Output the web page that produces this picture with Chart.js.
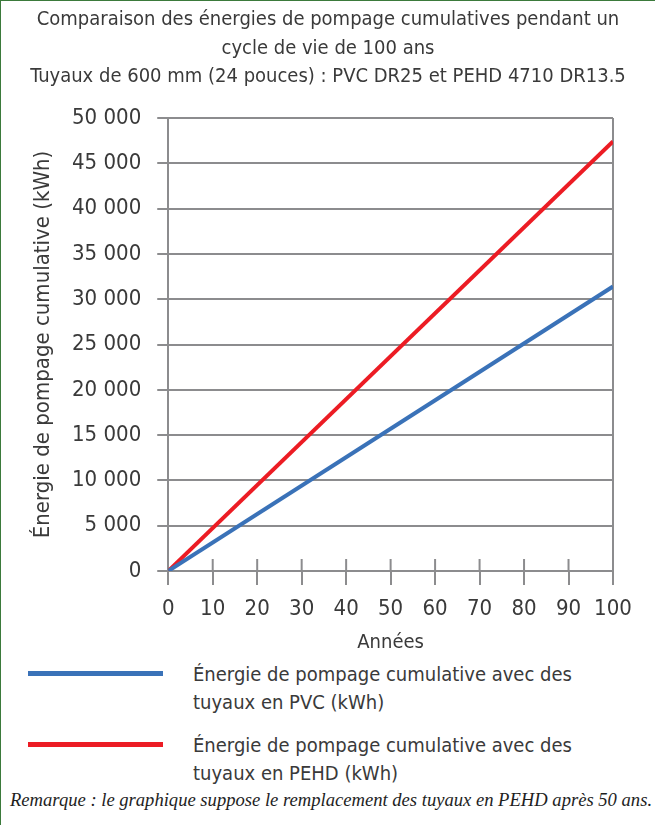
<!DOCTYPE html>
<html>
<head>
<meta charset="utf-8">
<script src="https://cdn.jsdelivr.net/npm/chart.js@4"></script>
<style>
  body { margin: 0; background: #fff; }
  #wrap { position: relative; width: 654px; height: 824px; border-top: 1px solid #3b7a3b; border-left: 1px solid #3b7a3b; overflow: hidden; }
  #chart { position: absolute; left: 0; top: 0; }
  .cond { font-family: "Liberation Sans Narrow", "DejaVu Sans Condensed", "Roboto", sans-serif; color: #3a3a3a; }
  #title { position: absolute; left: 0; top: 3px; width: 654px; text-align: center; font-size: 20px; line-height: 28.5px; }
  #legend { position: absolute; left: 27px; top: 656px; }
  .item { display: flex; align-items: flex-start; margin-bottom: 12px; }
  .swatch { width: 135px; height: 5px; margin-top: 14px; margin-right: 30px; }
  .label { font-size: 20px; line-height: 28px; width: 420px; padding-top: 3px; }
  #note { position: absolute; left: 9px; top: 788px; font-family: "Liberation Serif", "DejaVu Serif", serif; font-style: italic; font-size: 18.6px; color: #1e1e1e; white-space: nowrap; }
</style>
</head>
<body>
<div id="wrap">
  <canvas id="chart" width="654" height="652"></canvas>
  <div id="title" class="cond"></div>
  <div id="legend" class="cond"></div>
  <div id="note">Remarque : le graphique suppose le remplacement des tuyaux en PEHD après 50 ans.</div>
</div>
<script>
var years = [0, 100];
var pvcEnergy = [0, 31400];
var pehdEnergy = [0, 47400];
var seriesNames = [
  'Énergie de pompage cumulative avec des tuyaux en PVC (kWh)',
  'Énergie de pompage cumulative avec des tuyaux en PEHD (kWh)'
];
var seriesColors = ['#3a72b8', '#ec1c24'];
var titleLines = [
  'Comparaison des énergies de pompage cumulatives pendant un',
  'cycle de vie de 100 ans',
  'Tuyaux de 600 mm (24 pouces) : PVC DR25 et PEHD 4710 DR13.5'
];

var fontFam = '"Liberation Sans Narrow", "DejaVu Sans Condensed", Roboto, sans-serif';
var grey = '#8c8c8e';
var textCol = '#3a3a3a';

function pts(xs, ys) {
  return xs.map(function (x, i) { return { x: x, y: ys[i] }; });
}
function fmt(v) {
  return String(v).replace(/\B(?=(\d{3})+(?!\d))/g, ' ');
}

// title centred on the whole picture, not on the padded chart box
titleLines.forEach(function (t) {
  var d = document.createElement('div');
  d.textContent = t;
  document.getElementById('title').appendChild(d);
});

// x tick marks also poke above the axis line, like the original
var upTicks = {
  id: 'upTicks',
  afterDatasetsDraw: function (chart) {
    var x = chart.scales.x;
    var c = chart.ctx;
    c.save();
    c.strokeStyle = grey;
    c.lineWidth = 2;
    x.ticks.forEach(function (t) {
      if (t.value === 0 || t.value === 100) return;
      var px = x.getPixelForValue(t.value);
      c.beginPath();
      c.moveTo(px, x.top - 12);
      c.lineTo(px, x.top);
      c.stroke();
    });
    c.restore();
  }
};

var ctx = document.getElementById('chart').getContext('2d');
var myChart = new Chart(ctx, {
  type: 'line',
  data: {
    datasets: [{
      label: seriesNames[0],
      data: pts(years, pvcEnergy),
      borderColor: seriesColors[0],
      borderWidth: 4,
      pointRadius: 0
    }, {
      label: seriesNames[1],
      data: pts(years, pehdEnergy),
      borderColor: seriesColors[1],
      borderWidth: 4,
      pointRadius: 0
    }]
  },
  plugins: [upTicks],
  options: {
    responsive: false,
    animation: false,
    layout: { padding: { left: 31, right: 42, top: 117, bottom: 0 } },
    plugins: {
      legend: { display: false },
      tooltip: { enabled: false },
      title: { display: false }
    },
    scales: {
      x: {
        type: 'linear',
        min: 0,
        max: 100,
        ticks: {
          stepSize: 10,
          autoSkip: false,
          maxRotation: 0,
          minRotation: 0,
          color: textCol,
          padding: 13,
          font: { family: fontFam, size: 22, lineHeight: 1 }
        },
        grid: {
          color: function (c) { return c.tick && c.tick.value === 100 ? grey : 'transparent'; },
          tickColor: grey,
          lineWidth: 2,
          tickLength: 14
        },
        border: { color: grey, width: 2 },
        title: {
          display: true,
          text: 'Années',
          color: textCol,
          padding: { top: 0, bottom: 0 },
          font: { family: fontFam, size: 20, lineHeight: 1 }
        }
      },
      y: {
        min: 0,
        max: 50000,
        ticks: {
          stepSize: 5000,
          color: textCol,
          padding: 16,
          font: { family: fontFam, size: 22 },
          callback: function (v) { return fmt(v); }
        },
        grid: { color: grey, lineWidth: 2, tickLength: 11 },
        border: { color: grey, width: 2 },
        title: {
          display: true,
          text: 'Énergie de pompage cumulative (kWh)',
          color: textCol,
          padding: { top: 0, bottom: 2 },
          font: { family: fontFam, size: 22, lineHeight: 1 }
        }
      }
    }
  }
});

// legend built from the chart's datasets
var legend = document.getElementById('legend');
myChart.data.datasets.forEach(function (ds) {
  var item = document.createElement('div');
  item.className = 'item';
  var sw = document.createElement('div');
  sw.className = 'swatch';
  sw.style.background = ds.borderColor;
  var lb = document.createElement('div');
  lb.className = 'label';
  lb.textContent = ds.label;
  item.appendChild(sw);
  item.appendChild(lb);
  legend.appendChild(item);
});
</script>
</body>
</html>
